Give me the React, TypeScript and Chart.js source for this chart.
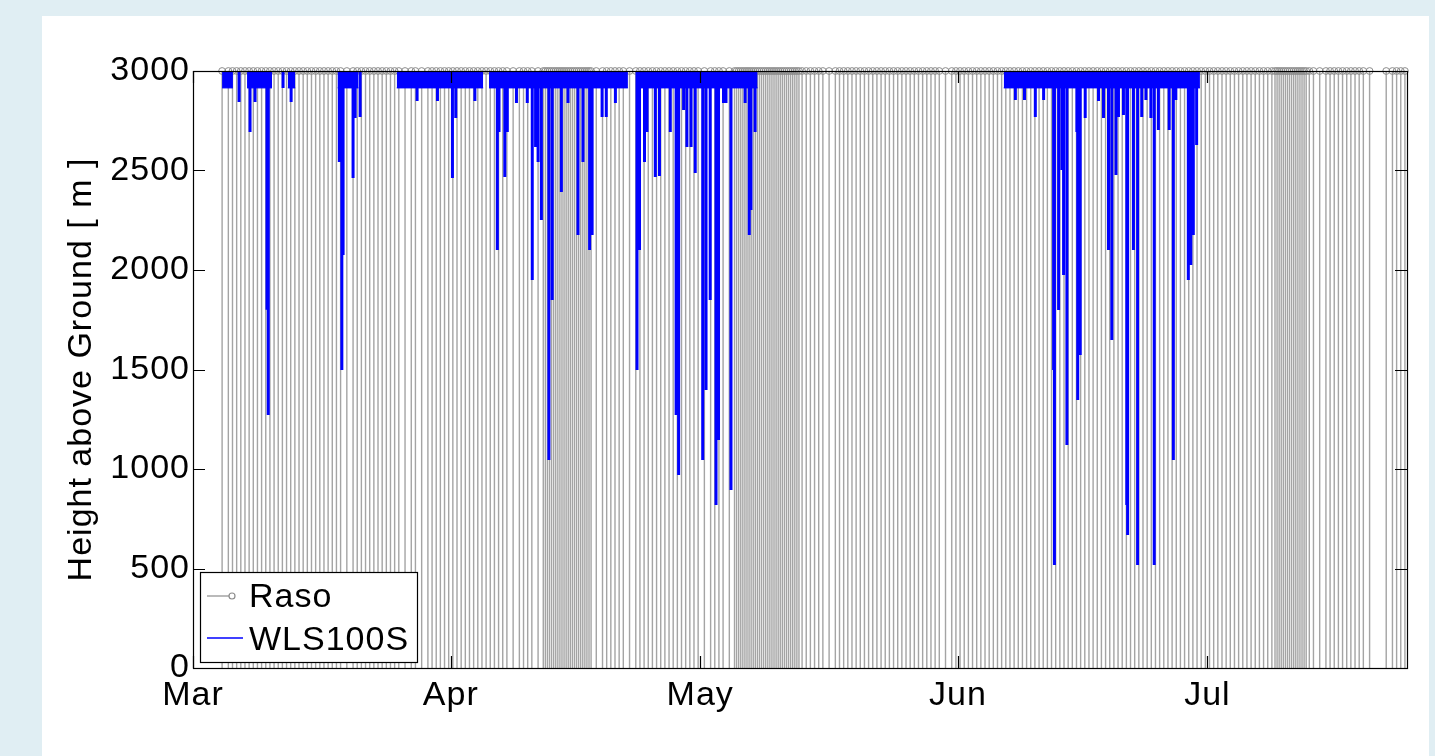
import React, { useEffect, useRef } from 'react';
import { Chart, registerables } from 'chart.js';
Chart.register(...registerables);

// x axis: days since 1 March
const monthStarts = [0, 31, 61, 92, 122];
const monthLabels = ['Mar', 'Apr', 'May', 'Jun', 'Jul'];
const dayRange = [0, 146];
const heightTicks = [0, 500, 1000, 1500, 2000, 2500, 3000];
const heightTop = 3000;

// radiosonde launches per day, index 0 = 1 March
const rasoPerDay = [
  0, 0, 0, 1, 2, 2, 2, 2, 2, 2,
  2, 2, 2, 2, 2, 2, 2, 2, 1, 2,
  2, 2, 2, 2, 2, 1, 2, 1, 2, 2,
  2, 2, 2, 2, 2, 2, 2, 2, 1, 2,
  2, 1, 4, 4, 4, 4, 4, 4, 1, 2,
  2, 2, 1, 2, 2, 2, 2, 2, 2, 2,
  2, 1, 2, 2, 1, 4, 4, 4, 4, 4,
  4, 4, 4, 2, 2, 2, 1, 2, 2, 2,
  2, 2, 2, 2, 2, 2, 2, 2, 2, 2,
  1, 2, 2, 2, 2, 2, 2, 2, 2, 2,
  2, 2, 2, 2, 2, 2, 2, 2, 2, 2,
  2, 2, 2, 2, 2, 2, 2, 2, 2, 2,
  2, 2, 2, 2, 2, 2, 2, 2, 2, 2,
  4, 4, 4, 4, 2, 1, 2, 2, 2, 2,
  2, 1, 0, 1, 2, 2,
];

// WLS100S: typical top of valid range while operating
const wlsTypical = 2915;
// operating periods [startDay, endDay]
const wlsBands: [number, number][] = [
  [3.5, 4.8], [6.5, 9.5], [11.4, 12.3], [17.4, 19.9], [24.5, 34.9],
  [35.6, 52.3], [53.3, 67.9], [97.5, 121.1],
];
// drops of the valid range [day, height m]
const wlsDrops: [number, number][] = [
  [5.54, 2844], [6.86, 2693], [7.46, 2844], [8.9, 1800], [9.05, 1271],
  [10.83, 2915], [11.8, 2844], [17.6, 2543], [17.9, 1497], [18.05, 2075],
  [19.25, 2462], [19.5, 2764], [20.1, 2769],
  [26.95, 2849], [29.4, 2849], [31.2, 2462], [31.6, 2764], [33.9, 2849],
  [36.6, 2100], [36.8, 2693], [37.5, 2467], [37.8, 2693], [38.9, 2839],
  [40.2, 2839], [40.8, 1950], [41.2, 2618], [41.5, 2543], [41.9, 2251],
  [42.8, 1045], [43.2, 1849], [44.3, 2392], [45.1, 2839], [46.3, 2176],
  [46.9, 2543], [47.7, 2100], [48.0, 2176], [49.2, 2769], [49.7, 2769],
  [50.8, 2839],
  [53.4, 1497], [53.7, 2100], [54.3, 2543], [54.6, 2693], [55.6, 2467],
  [56.1, 2472], [57.4, 2693], [58.1, 1271], [58.4, 970], [59.0, 2804],
  [59.4, 2618], [59.9, 2618], [60.4, 2487], [61.3, 1045], [61.7, 1397],
  [62.2, 1849], [62.9, 819], [63.2, 1146], [63.8, 2839], [64.1, 2839],
  [64.7, 895], [66.4, 2839], [66.9, 2176], [67.1, 2301], [67.6, 2693],
  [98.9, 2854], [100.0, 2854], [101.3, 2769], [102.3, 2854], [103.5, 1497],
  [103.6, 518], [104.1, 1799], [104.5, 2502], [104.7, 1975], [105.1, 1121],
  [106.3, 2693], [106.4, 1347], [106.7, 1573], [107.3, 2764], [108.9, 2849],
  [109.5, 2764], [110.1, 2100], [110.5, 1648], [111.0, 2477], [111.3, 2769],
  [111.9, 2779], [112.3, 819], [112.4, 668], [113.1, 2100], [113.6, 518],
  [114.1, 2769], [114.6, 2854], [115.2, 2764], [115.6, 518], [116.1, 2704],
  [117.4, 2704], [117.9, 1045], [118.2, 2854], [119.7, 1950], [120.0, 2025],
  [120.3, 2176], [120.7, 2628],
];

const FONT = 'Liberation Sans, Arial, Helvetica, sans-serif';
const FONT_SIZE = 34;
const LETTER_SPACING = '1px';
const RASO_LINE = '#a4a4a4';
const RASO_MARK = '#8c8c8c';
const BLUE = '#0000ff';

function buildRasoTimes(): number[] {
  const t: number[] = [];
  rasoPerDay.forEach((n, d) => {
    for (let k = 0; k < n; k++) t.push(d + (k + 0.5) / n);
  });
  return t;
}

const spacingPlugin = {
  id: 'letterSpacing',
  beforeUpdate(chart: any) { (chart.ctx as any).letterSpacing = LETTER_SPACING; },
  beforeDraw(chart: any) { (chart.ctx as any).letterSpacing = LETTER_SPACING; },
};

const framePlugin = {
  id: 'matlabFrame',
  afterDatasetsDraw(chart: any) {
    const { ctx, chartArea: a, scales } = chart;
    const x = scales.x, y = scales.y;
    const tl = 12;
    ctx.save();
    ctx.strokeStyle = '#000';
    ctx.lineWidth = 1.2;
    ctx.beginPath();
    monthStarts.forEach((d) => {
      const px = Math.round(x.getPixelForValue(d)) + 0.5;
      ctx.moveTo(px, a.bottom); ctx.lineTo(px, a.bottom - tl);
      ctx.moveTo(px, a.top); ctx.lineTo(px, a.top + tl);
    });
    heightTicks.forEach((h) => {
      const py = Math.round(y.getPixelForValue(h)) + 0.5;
      ctx.moveTo(a.left, py); ctx.lineTo(a.left + tl, py);
      ctx.moveTo(a.right, py); ctx.lineTo(a.right - tl, py);
    });
    ctx.stroke();
    ctx.strokeRect(Math.round(a.left) + 0.5, Math.round(a.top) + 0.5,
      Math.round(a.right - a.left), Math.round(a.bottom - a.top));
    ctx.restore();
  },
  afterDraw(chart: any) {
    const { ctx, chartArea: a } = chart;
    ctx.save();
    const bx = a.left + 7, by = a.bottom - 96, bw = 217, bh = 90;
    ctx.fillStyle = '#fff';
    ctx.fillRect(bx, by, bw, bh);
    ctx.strokeStyle = '#000';
    ctx.lineWidth = 1.2;
    ctx.strokeRect(bx + 0.5, by + 0.5, bw, bh);
    // Raso entry
    ctx.strokeStyle = RASO_MARK;
    ctx.lineWidth = 1.2;
    ctx.beginPath();
    ctx.moveTo(a.left + 14, a.bottom - 72);
    ctx.lineTo(a.left + 36, a.bottom - 72);
    ctx.stroke();
    ctx.beginPath();
    ctx.arc(a.left + 39, a.bottom - 72, 3, 0, Math.PI * 2);
    ctx.stroke();
    // WLS entry
    ctx.strokeStyle = BLUE;
    ctx.lineWidth = 1.5;
    ctx.beginPath();
    ctx.moveTo(a.left + 14, a.bottom - 30);
    ctx.lineTo(a.left + 50, a.bottom - 30);
    ctx.stroke();
    ctx.fillStyle = '#000';
    ctx.font = `${FONT_SIZE}px ${FONT}`;
    (ctx as any).letterSpacing = LETTER_SPACING;
    ctx.textAlign = 'left';
    ctx.textBaseline = 'alphabetic';
    ctx.fillText('Raso', a.left + 56, a.bottom - 61);
    ctx.fillText('WLS100S', a.left + 56, a.bottom - 18);
    ctx.restore();
  },
};

export default function App() {
  const ref = useRef<HTMLCanvasElement>(null);
  useEffect(() => {
    const canvas = ref.current!;
    const rasoTimes = buildRasoTimes();
    const stems: any[] = [];
    rasoTimes.forEach((t) => {
      stems.push({ x: t, y: 0 }, { x: t, y: heightTop }, { x: t, y: null });
    });
    const marks = rasoTimes.map((t) => ({ x: t, y: heightTop }));
    const band: any[] = [];
    wlsBands.forEach(([s, e]) => {
      band.push({ x: s, y: wlsTypical }, { x: e, y: wlsTypical }, { x: e, y: null });
    });
    const drops: any[] = [];
    wlsDrops.forEach(([d, h]) => {
      drops.push({ x: d, y: heightTop }, { x: d, y: h }, { x: d, y: null });
    });

    const chart = new Chart(canvas, {
      type: 'line',
      data: {
        datasets: [
          {
            label: 'WLS100S', data: drops, order: 0,
            borderColor: BLUE, borderWidth: 3, pointRadius: 0, fill: false, spanGaps: false,
          },
          {
            label: 'WLS100S band', data: band, order: 1,
            borderColor: BLUE, backgroundColor: BLUE, borderWidth: 1, pointRadius: 0,
            fill: 'end', spanGaps: false,
          },
          {
            label: 'Raso marks', data: marks, order: 2, showLine: false,
            pointRadius: 3.4, pointStyle: 'circle', pointBorderColor: RASO_MARK,
            pointBackgroundColor: 'rgba(0,0,0,0)', pointBorderWidth: 1, clip: false as any,
          },
          {
            label: 'Raso', data: stems, order: 3,
            borderColor: RASO_LINE, borderWidth: 1.4, pointRadius: 0, fill: false, spanGaps: false,
          },
        ],
      } as any,
      options: {
        responsive: false,
        animation: false,
        events: [],
        layout: { padding: { left: 0, right: 22, top: 55, bottom: 0 } },
        plugins: { legend: { display: false }, tooltip: { enabled: false } },
        scales: {
          x: {
            type: 'linear',
            min: dayRange[0],
            max: dayRange[1],
            grid: { display: false, drawTicks: false },
            border: { display: true, color: '#000', width: 1 },
            afterBuildTicks: (s: any) => { s.ticks = monthStarts.map((v) => ({ value: v })); },
            afterFit: (s: any) => { s.height = 88; },
            ticks: {
              autoSkip: false, maxRotation: 0, padding: 7, color: '#000',
              font: { family: FONT, size: FONT_SIZE },
              callback: (v: any) => monthLabels[monthStarts.indexOf(Number(v))] ?? '',
            },
          },
          y: {
            type: 'linear',
            min: heightTicks[0],
            max: heightTicks[heightTicks.length - 1],
            grid: { display: false, drawTicks: false },
            border: { display: true, color: '#000', width: 1 },
            afterBuildTicks: (s: any) => { s.ticks = heightTicks.map((v) => ({ value: v })); },
            afterFit: (s: any) => { s.width = 151; },
            title: {
              display: true, text: 'Height above Ground [ m ]', color: '#000',
              font: { family: FONT, size: FONT_SIZE }, padding: { top: 19, bottom: 0 },
            },
            ticks: {
              padding: 3, color: '#000', font: { family: FONT, size: FONT_SIZE },
              callback: (v: any) => String(v),
            },
          },
        },
      } as any,
      plugins: [spacingPlugin, framePlugin],
    });
    return () => chart.destroy();
  }, []);

  return (
    <div style={{ position: 'fixed', left: 0, top: 0, width: 1435, height: 756, background: '#e0eef3', overflow: 'hidden' }}>
      <div style={{ position: 'absolute', left: 42, top: 16, width: 1387, height: 740, background: '#fff' }}>
        <canvas ref={ref} width={1387} height={740} style={{ display: 'block', width: 1387, height: 740 }} />
      </div>
    </div>
  );
}
